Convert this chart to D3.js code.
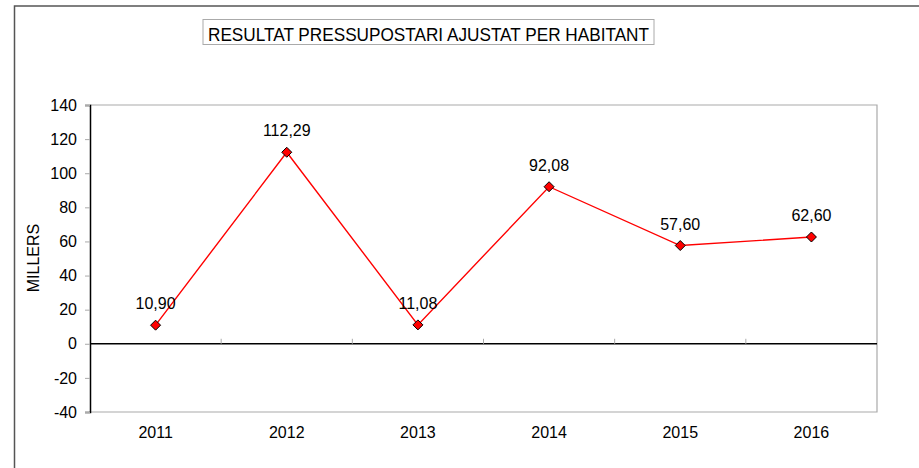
<!DOCTYPE html>
<html>
<head>
<meta charset="utf-8">
<script src="https://cdn.jsdelivr.net/npm/d3@7"></script>
<style>
  html, body { margin: 0; padding: 0; background: #fff; }
  svg { display: block; font-family: "Liberation Sans", Arial, sans-serif; }
</style>
</head>
<body>
<svg id="chart" width="919" height="468"></svg>
<script>
const years = ["2011", "2012", "2013", "2014", "2015", "2016"];
const values = [10.90, 112.29, 11.08, 92.08, 57.60, 62.60];
const yTicks = [-40, -20, 0, 20, 40, 60, 80, 100, 120, 140];
const titleText = "RESULTAT PRESSUPOSTARI AJUSTAT PER HABITANT";
const yAxisTitle = "MILLERS";

const svg = d3.select("#chart");
const plot = { left: 90, right: 877, top: 105, bottom: 412 };
const FS = 16;

// outer frame (runs off the right and bottom edges)
svg.append("path")
  .attr("d", "M14.5,470 V6 H925")
  .attr("fill", "none").attr("stroke", "#555").attr("stroke-width", 1.5);

// title box
svg.append("rect")
  .attr("x", 203).attr("y", 19.5).attr("width", 451).attr("height", 25)
  .attr("fill", "#fff").attr("stroke", "#aaa").attr("stroke-width", 1);
svg.append("text")
  .attr("x", 208).attr("y", 41)
  .attr("font-size", 18.5).attr("fill", "#000")
  .attr("textLength", 441).attr("lengthAdjust", "spacingAndGlyphs")
  .text(titleText);

const x = d3.scaleBand().domain(years).range([plot.left, plot.right]);
const y = d3.scaleLinear().domain([-40, 140]).range([plot.bottom, plot.top]);

// plot frame: top, right, bottom in grey
svg.append("path")
  .attr("d", `M${plot.left},${plot.top} H${plot.right} V${plot.bottom} H${plot.left}`)
  .attr("fill", "none").attr("stroke", "#aaa").attr("stroke-width", 1.2);

// y axis
const yAxis = svg.append("g")
  .attr("transform", `translate(${plot.left},0)`)
  .call(d3.axisLeft(y).tickValues(yTicks).tickSize(5).tickPadding(8).tickFormat(d => String(d)));
yAxis.select(".domain").attr("stroke", "#000").attr("stroke-width", 1.5);
yAxis.selectAll(".tick line").attr("stroke", "#aaa");
yAxis.selectAll(".tick text").attr("font-size", FS).attr("fill", "#000")
  .attr("font-family", "'Liberation Sans', Arial, sans-serif");

// zero line with category dividers
svg.append("line")
  .attr("x1", plot.left).attr("x2", plot.right)
  .attr("y1", y(0)).attr("y2", y(0))
  .attr("stroke", "#000").attr("stroke-width", 1.5);
svg.append("g").selectAll("line")
  .data(years.slice(1))
  .join("line")
  .attr("x1", d => x(d)).attr("x2", d => x(d))
  .attr("y1", y(0)).attr("y2", y(0) - 5)
  .attr("stroke", "#aaa");

// x labels
svg.append("g").selectAll("text")
  .data(years)
  .join("text")
  .attr("x", d => x(d) + x.bandwidth() / 2)
  .attr("y", 438)
  .attr("text-anchor", "middle")
  .attr("font-size", FS).attr("fill", "#000")
  .text(d => d);

// y axis title
svg.append("text")
  .attr("transform", `translate(39,258) rotate(-90)`)
  .attr("text-anchor", "middle")
  .attr("font-size", FS).attr("fill", "#000")
  .text(yAxisTitle);

const pts = years.map((yr, i) => ({ yr, v: values[i] }));
const cx = d => x(d.yr) + x.bandwidth() / 2;

// series line
svg.append("path")
  .datum(pts)
  .attr("fill", "none").attr("stroke", "#ff0000").attr("stroke-width", 1.4)
  .attr("d", d3.line().x(cx).y(d => y(d.v)));

// diamond markers
svg.append("g").selectAll("path")
  .data(pts)
  .join("path")
  .attr("transform", d => `translate(${cx(d)},${y(d.v)})`)
  .attr("d", "M0,-5 L5,0 L0,5 L-5,0 Z")
  .attr("fill", "#ff0000").attr("stroke", "#000").attr("stroke-width", 1);

// value labels
const fmt = v => v.toFixed(2).replace(".", ",");
svg.append("g").selectAll("text")
  .data(pts)
  .join("text")
  .attr("x", cx)
  .attr("y", d => y(d.v) - 16)
  .attr("text-anchor", "middle")
  .attr("font-size", FS).attr("fill", "#000")
  .text(d => fmt(d.v));
</script>
</body>
</html>
